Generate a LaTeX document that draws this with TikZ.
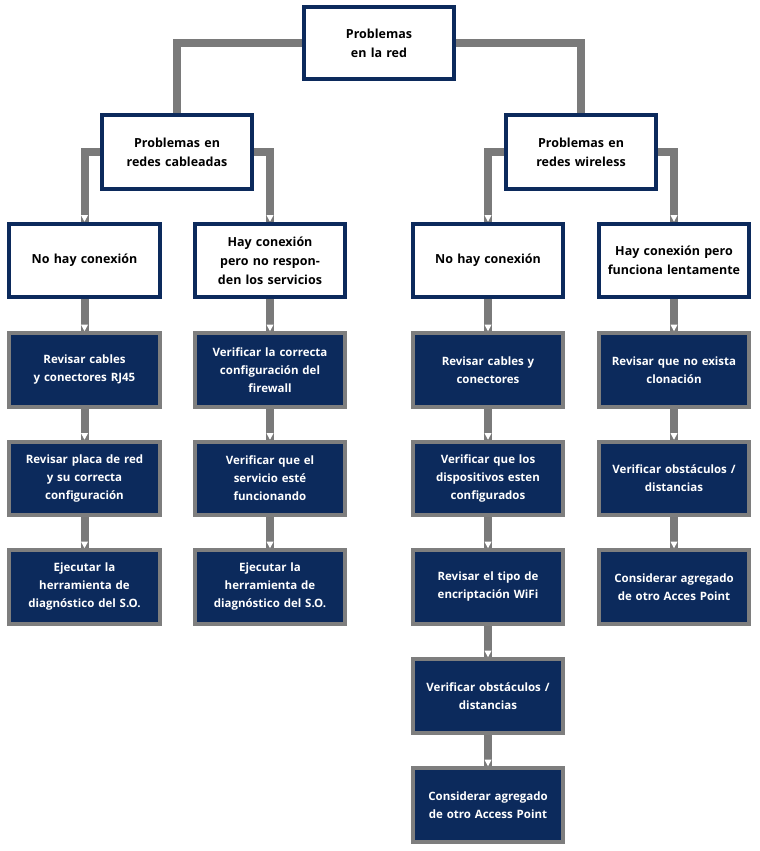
\documentclass[tikz,border=0pt]{standalone}
\usepackage{fontspec}
\setmainfont{Open Sans}
\begin{document}
\begin{tikzpicture}[x=1pt,y=-1pt,
  wbox/.style={draw=navy,line width=2.6pt,fill=white,minimum width=149pt,minimum height=72pt,align=center,text width=140pt,font=\fontsize{12.5}{19}\selectfont\bfseries,text=black,inner sep=0pt},
  dbox/.style={draw=bgray,line width=2.6pt,fill=navy,minimum width=149pt,minimum height=72pt,align=center,text width=140pt,font=\fontsize{11.5}{18}\selectfont\bfseries,text=white,inner sep=0pt},
  conn/.style={draw=cgray,line width=8pt}]
\definecolor{navy}{HTML}{0C2A5C}
\definecolor{bgray}{HTML}{7E7E7E}
\definecolor{cgray}{HTML}{7A7A7A}
\useasboundingbox (0,0) rectangle (760,851);
\newcommand\tipat[1]{\fill[white] ([shift={(-3.5pt,8pt)}]#1.north) -- ([shift={(3.5pt,8pt)}]#1.north) -- ([shift={(0pt,1.5pt)}]#1.north) -- cycle;}
% connectors first
\coordinate (dummy) at (0,0);
\begin{scope}
\node[wbox,minimum height=71pt] (top) at (379,43) {Problemas\\en la red};
\node[wbox] (la) at (177,152) {Problemas en\\redes cableadas};
\node[wbox] (lb) at (581,152) {Problemas en\\redes wireless};
\node[wbox] (a0) at (84.5,260.5) {No hay conexión};
\node[wbox] (b0) at (270,260.5) {Hay conexión pero no responden los servicios};
\node[wbox] (c0) at (488,260.5) {No hay conexión};
\node[wbox] (d0) at (674,260.5) {Hay conexión pero funciona lentamente};
\node[dbox] (a1) at (84.5,370) {Revisar cables\\y conectores RJ45};
\node[dbox] (a2) at (84.5,478.5) {Revisar placa de red\\y su correcta\\configuración};
\node[dbox] (a3) at (84.5,587) {Ejecutar la\\herramienta de\\diagnóstico del S.O.};
\node[dbox] (b1) at (270,370) {Verificar la correcta\\configuración del\\firewall};
\node[dbox] (b2) at (270,478.5) {Verificar que el\\servicio esté\\funcionando};
\node[dbox] (b3) at (270,587) {Ejecutar la\\herramienta de\\diagnóstico del S.O.};
\node[dbox] (c1) at (488,370) {Revisar cables y\\conectores};
\node[dbox] (c2) at (488,478.5) {Verificar que los\\dispositivos esten\\configurados};
\node[dbox] (c3) at (488,587) {Revisar el tipo de\\encriptación WiFi};
\node[dbox] (c4) at (488,696) {Verificar obstáculos /\\distancias};
\node[dbox] (c5) at (488,805) {Considerar agregado\\de otro Access Point};
\node[dbox] (d1) at (674,370) {Revisar que no exista\\clonación};
\node[dbox] (d2) at (674,478.5) {Verificar obstáculos /\\distancias};
\node[dbox] (d3) at (674,587) {Considerar agregado\\de otro Acces Point};
\end{scope}
\begin{scope}[on background layer/.style={}]
\draw[conn] (top.west) -| (la.north);
\draw[conn] (top.east) -| (lb.north);
\draw[conn] (la.west) -| (a0.north);
\draw[conn] (la.east) -| (b0.north);
\draw[conn] (lb.west) -| (c0.north);
\draw[conn] (lb.east) -| (d0.north);
\foreach \u/\v in {a0/a1,a1/a2,a2/a3,b0/b1,b1/b2,b2/b3,c0/c1,c1/c2,c2/c3,c3/c4,c4/c5,d0/d1,d1/d2,d2/d3}{
  \draw[conn] (\u.south) -- (\v.north);
}
\end{scope}
% redraw borders over connectors
\foreach \n in {top,la,lb,a0,b0,c0,d0}{\draw[navy,line width=2.6pt] (\n.south west) rectangle (\n.north east);}
\foreach \n in {a1,a2,a3,b1,b2,b3,c1,c2,c3,c4,c5,d1,d2,d3}{\draw[bgray,line width=2.6pt] (\n.south west) rectangle (\n.north east);}
\foreach \n in {a0,b0,c0,d0,a1,a2,a3,b1,b2,b3,c1,c2,c3,c4,c5,d1,d2,d3}{\tipat{\n}}
\end{tikzpicture}
\end{document}
